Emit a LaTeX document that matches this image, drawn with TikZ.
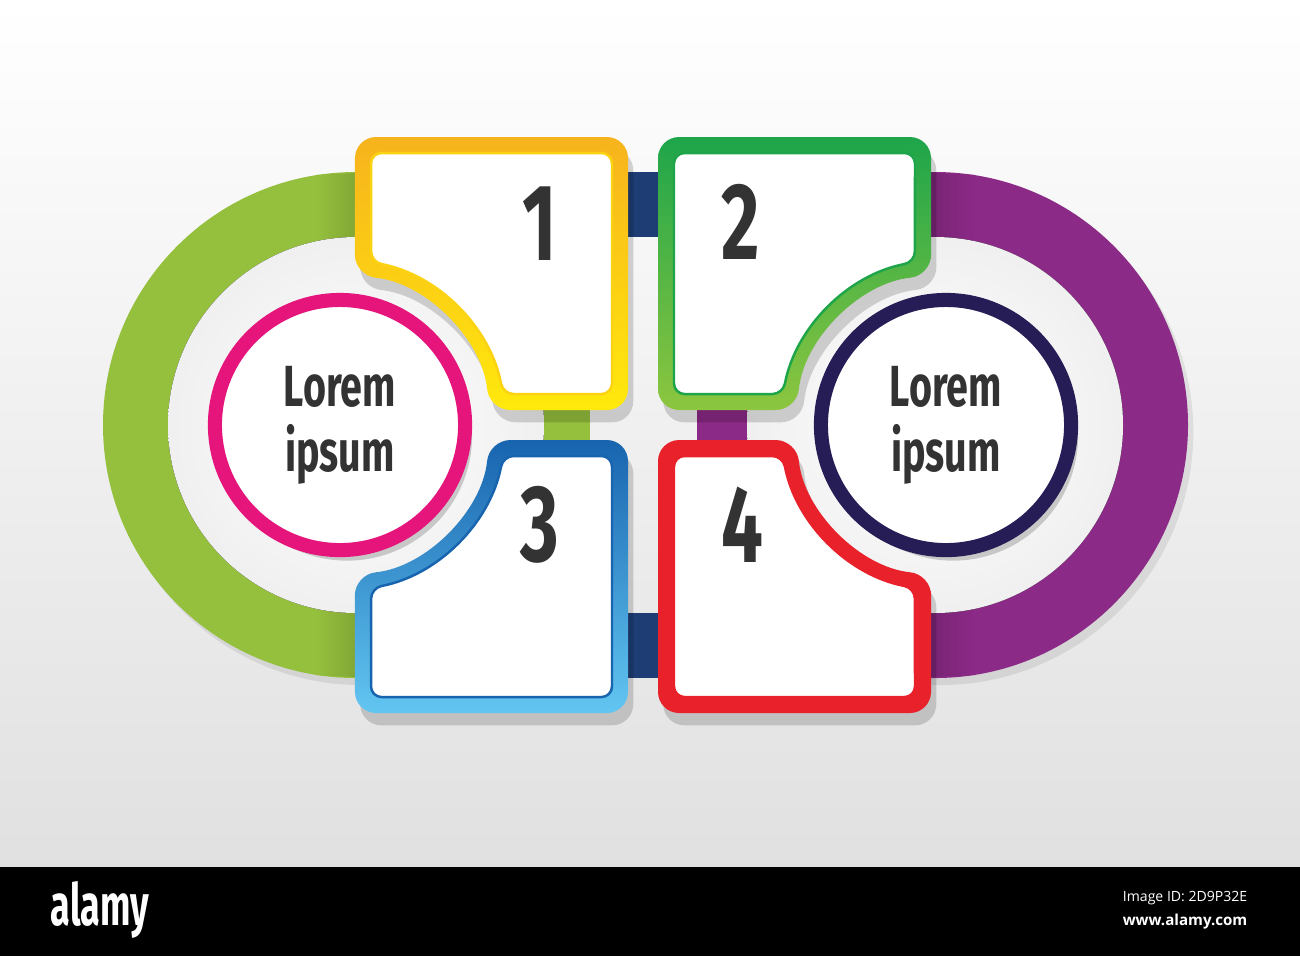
\documentclass[tikz,border=0pt]{standalone}
\usepackage{fontspec}
\setmainfont{Fira Sans}
\newfontfamily\condfont[FakeStretch=0.68]{Fira Sans}
\newfontfamily\logofont[FakeStretch=0.62]{Fira Sans}
\newfontfamily\idfont{Open Sans}
\usetikzlibrary{shadows}

\definecolor{ringgreen}{HTML}{95C03D}
\definecolor{ringpurple}{HTML}{8C2A87}
\definecolor{barnavy}{HTML}{1E3D75}
\definecolor{yelltop}{HTML}{F7B31D}
\definecolor{yellbot}{HTML}{FFE90C}
\definecolor{grntop}{HTML}{1EA54A}
\definecolor{grnbot}{HTML}{8DC63F}
\definecolor{bluetop}{HTML}{1864AF}
\definecolor{bluebot}{HTML}{62C6F1}
\definecolor{redbox}{HTML}{E9212B}
\definecolor{pinkring}{HTML}{E5157C}
\definecolor{navyring}{HTML}{261D56}
\definecolor{txtgray}{HTML}{333333}

\begin{document}
\begin{tikzpicture}[x=0.01cm, y=-0.01cm,
    frame/.style={rounded corners=6pt,
      drop shadow={shadow xshift=1.5pt, shadow yshift=-3.5pt, opacity=.16, fill=black}},
    hole/.style={fill=white, rounded corners=3pt, line width=0.7pt},
    band/.style={drop shadow={shadow xshift=1.5pt, shadow yshift=-2pt, opacity=.08, fill=black}},
    badge/.style={circle, fill=white, line width=4pt, minimum size=2.5cm, inner sep=0pt,
      align=center, text=txtgray, font=\condfont\bfseries\fontsize{16.5}{18.5}\selectfont,
      drop shadow={shadow xshift=2pt, shadow yshift=-3pt, opacity=.18, fill=black}},
    num/.style={text=txtgray, font=\condfont\bfseries\fontsize{31}{31}\selectfont}]
  \useasboundingbox (0,0) rectangle (1300,956);

  % background
  \fill[top color=white, bottom color=gray!24] (0,0) rectangle (1300,867);

  % ring bands
  \fill[band, ringgreen]
    (376,172) -- (356,172) arc[start angle=-90, end angle=-270, radius=253]
    -- (376,678) -- (376,613) -- (356,613) arc[start angle=90, end angle=270, radius=188]
    -- (376,237) -- cycle;
  \shade[left color=ringgreen, right color=ringgreen!80!black] (316,175) -- (376,172) -- (376,237) -- (316,241) -- cycle;
  \shade[left color=ringgreen, right color=ringgreen!80!black] (316,675) -- (376,678) -- (376,613) -- (316,609) -- cycle;
  \fill[band, ringpurple]
    (915,172) -- (935,172) arc[start angle=-90, end angle=90, radius=253]
    -- (915,678) -- (915,613) -- (935,613) arc[start angle=90, end angle=-90, radius=188]
    -- (915,237) -- cycle;
  \shade[left color=ringpurple!80!black, right color=ringpurple] (915,172) -- (975,175) -- (975,241) -- (915,237) -- cycle;
  \shade[left color=ringpurple!80!black, right color=ringpurple] (915,678) -- (975,675) -- (975,609) -- (915,613) -- cycle;

  % joining bars
  \fill[barnavy] (610,172) rectangle (676,237);
  \fill[barnavy] (610,613) rectangle (676,678);
  \fill[ringgreen] (527,395) rectangle (590,455);
  \fill[ringpurple] (697,395) rectangle (760,455);

  % inner discs
  \fill[inner color=white, outer color=gray!12] (356,425) circle[radius=188];
  \fill[inner color=white, outer color=gray!12] (935,425) circle[radius=188];

  % box 1
  \path[frame, top color=yelltop, bottom color=yellbot]
    (628,137) |- (489.2,410) arc[start angle=-5.7, end angle=-84.3, radius=150] -- (355,137) -- cycle;
  \path[hole, draw=yelltop!40!yellbot]
    (612,153) |- (503.1,394) arc[start angle=-10.8, end angle=-79.2, radius=166] -- (371,153) -- cycle;
  % box 2
  \path[frame, top color=grntop, bottom color=grnbot]
    (658,137) |- (796.8,410) arc[start angle=185.7, end angle=264.3, radius=150] -- (931,137) -- cycle;
  \path[hole, draw=grntop]
    (674,153) |- (782.9,394) arc[start angle=190.8, end angle=259.2, radius=166] -- (915,153) -- cycle;
  % box 3
  \path[frame, top color=bluetop, bottom color=bluebot]
    (628,713) |- (489.2,440) arc[start angle=5.7, end angle=84.3, radius=150] -- (355,713) -- cycle;
  \path[hole, draw=bluetop]
    (612,697) |- (503.1,456) arc[start angle=10.8, end angle=79.2, radius=166] -- (371,697) -- cycle;
  % box 4
  \path[frame, fill=redbox]
    (658,713) |- (796.8,440) arc[start angle=174.3, end angle=95.7, radius=150] -- (931,713) -- cycle;
  \path[hole, draw=redbox]
    (674,697) |- (782.9,456) arc[start angle=169.2, end angle=100.8, radius=166] -- (915,697) -- cycle;

  % circles
  \node[badge, draw=pinkring] (lefttxt) at (340,425) {Lorem\\ipsum};
  \node[badge, draw=navyring] (righttxt) at (946,425) {Lorem\\ipsum};

  % numbers
  \node[num] (n1) at (540,224) {1};
  \node[num] (n2) at (741,222) {2};
  \node[num] (n3) at (540,525) {3};
  \node[num] (n4) at (742,525) {4};

  % bottom strip
  \fill[black] (0,867) rectangle (1300,956);
  \node[anchor=base west, inner sep=0pt, text=white, font=\logofont\bfseries\fontsize{16.5}{16.5}\selectfont] (logo) at (50,925) {alamy};
  \node[anchor=east, inner sep=0pt, text=white, font=\idfont\fontsize{4}{4}\selectfont] (imgid) at (1248,898) {Image ID: 2D9P32E};
  \node[anchor=east, inner sep=0pt, text=white, font=\idfont\bfseries\fontsize{4.3}{4.3}\selectfont] (site) at (1248,922) {www.alamy.com};
\end{tikzpicture}
\end{document}
